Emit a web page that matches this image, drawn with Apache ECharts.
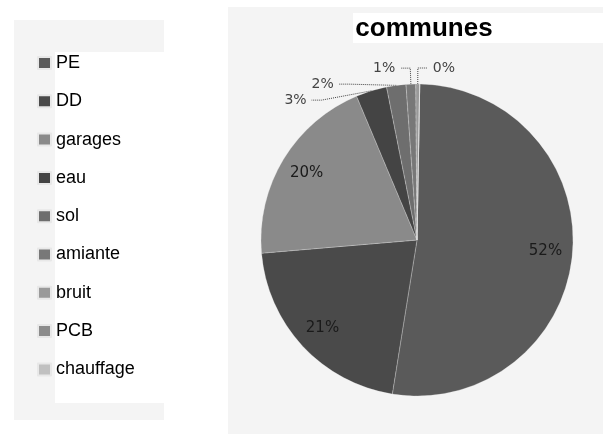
<!DOCTYPE html>
<html>
<head>
<meta charset="utf-8">
<script src="https://cdn.jsdelivr.net/npm/echarts@6/dist/echarts.min.js"></script>
<style>html,body{margin:0;padding:0;background:#fff}#c{width:603px;height:434px}</style>
</head>
<body>
<div id="c"></div>
<script>
const categories = ['PE', 'DD', 'garages', 'eau', 'sol', 'amiante', 'bruit', 'PCB', 'chauffage'];
const values = [52.2, 21.1, 20.0, 3.2, 2.0, 1.0, 0.4, 0, 0];
const colors = ['#5a5a5a', '#4a4a4a', '#8a8a8a', '#444444', '#6e6e6e', '#787878', '#9a9a9a', '#8c8c8c', '#c0c0c0'];
const insideLabels = ['PE', 'DD', 'garages'];
const chartTitle = 'communes';

const chart = echarts.init(document.getElementById('c'), null, {renderer: 'canvas'});
const fmt = p => Math.round(p.percent) + '%';

const mainData = categories.map((n, i) => ({
  name: n, value: values[i], itemStyle: {color: colors[i]},
  label: {show: values[i] > 0 && insideLabels.indexOf(n) < 0},
  labelLine: {show: values[i] > 0 && insideLabels.indexOf(n) < 0}
}));
const overlayData = categories.map((n, i) => ({
  name: n, value: values[i],
  label: {show: insideLabels.indexOf(n) >= 0}
}));

chart.setOption({
  animation: false,
  backgroundColor: '#fff',
  graphic: [
    {type: 'rect', z: -10, shape: {x: 14, y: 20, width: 150, height: 400}, style: {fill: '#f4f4f4'}},
    {type: 'rect', z: -9, shape: {x: 55, y: 52, width: 109, height: 351}, style: {fill: '#fff'}},
    {type: 'rect', z: -10, shape: {x: 228, y: 7, width: 375, height: 427}, style: {fill: '#f4f4f4'}},
    {type: 'rect', z: -9, shape: {x: 353, y: 13, width: 250, height: 30}, style: {fill: '#fff'}}
  ],
  title: {
    text: chartTitle, left: 419, top: 11, textAlign: 'center',
    textStyle: {fontFamily: 'Liberation Sans', fontWeight: 'bold', fontSize: 26, color: '#000'}
  },
  legend: {
    orient: 'vertical', left: 32, top: 49,
    itemWidth: 13, itemHeight: 12, itemGap: 20.3,
    icon: 'rect',
    data: categories,
    textStyle: {fontFamily: 'Liberation Sans', fontSize: 18, lineHeight: 18, color: '#000'}
  },
  series: [
    {
      name: chartTitle, type: 'pie', center: [417, 240], radius: [0, 156],
      startAngle: 89, clockwise: true, silent: true,
      itemStyle: {borderColor: '#e8e8e8', borderWidth: 0.6, borderType: 'dotted'},
      label: {position: 'outside', formatter: fmt, fontFamily: 'DejaVu Sans', fontSize: 14, color: '#444'},
      labelLine: {length: 16, length2: 10, lineStyle: {color: '#444', type: 'dotted', width: 1}},
      data: mainData
    },
    {
      name: 'labels', type: 'pie', center: [417, 240], radius: [96, 156],
      startAngle: 89, clockwise: true, silent: true,
      itemStyle: {color: 'rgba(0,0,0,0)'},
      label: {position: 'inside', formatter: fmt, fontFamily: 'DejaVu Sans', fontSize: 15, color: '#1a1a1a'},
      labelLine: {show: false},
      data: overlayData
    }
  ]
});
</script>
</body>
</html>
